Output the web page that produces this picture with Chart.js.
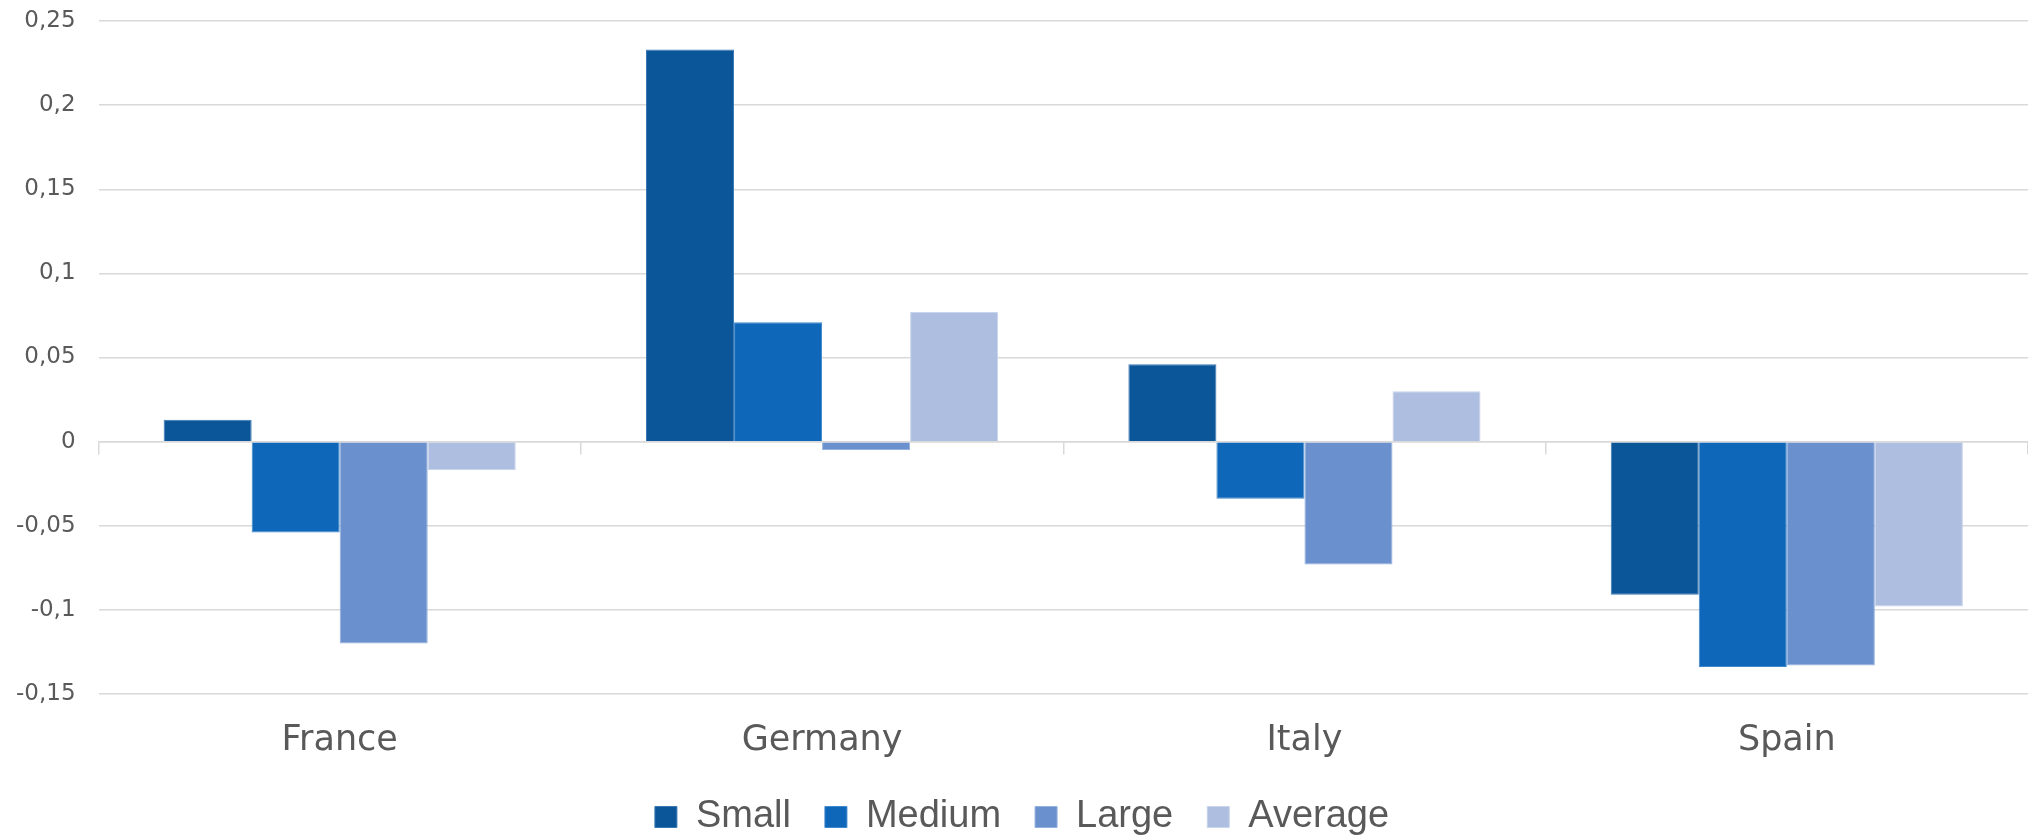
<!DOCTYPE html>
<html>
<head>
<meta charset="utf-8">
<title>Size groups by country</title>
<script src="https://cdn.jsdelivr.net/npm/chart.js@4/dist/chart.umd.min.js"></script>
<style>
  html, body { margin: 0; padding: 0; background: #ffffff; }
  #wrap { width: 2028px; height: 839px; }
</style>
</head>
<body>
<div id="wrap"><canvas id="sizeChart" width="2028" height="839"></canvas></div>
<script>
// countries on the x axis
const countries = ['France', 'Germany', 'Italy', 'Spain'];

// values per size group
const smallValues = [0.013, 0.233, 0.046, -0.091];
const mediumValues = [-0.054, 0.071, -0.034, -0.134];
const largeValues = [-0.12, -0.005, -0.073, -0.133];
const averageValues = [-0.017, 0.077, 0.030, -0.098];

// value axis range
const yMin = -0.15;
const yMax = 0.25;
const yStep = 0.05;

const textGrey = '#595959';
const gridGrey = '#d9d9d9';

function makeSet(label, data, fill, edge) {
    return {
        label: label,
        data: data,
        backgroundColor: fill,
        borderColor: edge,
        borderWidth: 1,
        categoryPercentage: 0.73,
        barPercentage: 1.0,
        xAxisID: 'x',
        yAxisID: 'y'
    };
}

const ctx = document.getElementById('sizeChart').getContext('2d');

new Chart(ctx, {
    type: 'bar',
    data: {
        labels: countries,
        datasets: [
            makeSet('Small', smallValues, '#0a5699', '#3a78b4'),
            makeSet('Medium', mediumValues, '#0e67b8', '#4088cc'),
            makeSet('Large', largeValues, '#6a90cd', '#93b0de'),
            makeSet('Average', averageValues, '#aebee0', '#c8d4ec')
        ]
    },
    options: {
        responsive: false,
        devicePixelRatio: 1,
        animation: false,
        layout: {
            padding: { top: 21, left: 16, right: 0, bottom: -7 }
        },
        plugins: {
            title: { display: false },
            tooltip: { enabled: false },
            legend: {
                display: true,
                position: 'bottom',
                // empty title only opens room between the country names and the legend row
                title: {
                    display: true,
                    text: '',
                    font: { size: 10 },
                    padding: { top: 58, bottom: 0 }
                },
                labels: {
                    boxWidth: 22,
                    boxHeight: 21,
                    padding: 34,
                    color: textGrey,
                    font: { family: '"Liberation Sans", Arial, sans-serif', size: 38 }
                }
            }
        },
        scales: {
            // country names hang under the lowest gridline
            x: {
                type: 'category',
                position: { y: yMin },
                offset: true,
                border: { display: false },
                grid: { display: false, drawTicks: false },
                ticks: {
                    color: textGrey,
                    padding: 26,
                    font: { family: '"DejaVu Sans", sans-serif', size: 35 }
                }
            },
            // zero baseline with short tick marks between countries
            xZero: {
                type: 'category',
                axis: 'x',
                position: { y: 0 },
                offset: true,
                border: { display: true, color: gridGrey, width: 1.5 },
                grid: {
                    offset: true,
                    drawOnChartArea: false,
                    drawTicks: true,
                    tickLength: 12,
                    color: gridGrey,
                    lineWidth: 1.5
                },
                ticks: { display: false }
            },
            y: {
                type: 'linear',
                min: yMin,
                max: yMax,
                border: { display: false },
                grid: {
                    color: gridGrey,
                    lineWidth: 1.5,
                    drawTicks: true,
                    tickLength: 23,
                    tickColor: 'rgba(0,0,0,0)'
                },
                ticks: {
                    stepSize: yStep,
                    padding: 0,
                    color: textGrey,
                    font: { family: '"DejaVu Sans", sans-serif', size: 23 },
                    callback: function(value) {
                        return Number(value.toFixed(2)).toString().replace('.', ',');
                    }
                }
            }
        }
    }
});
</script>
</body>
</html>
